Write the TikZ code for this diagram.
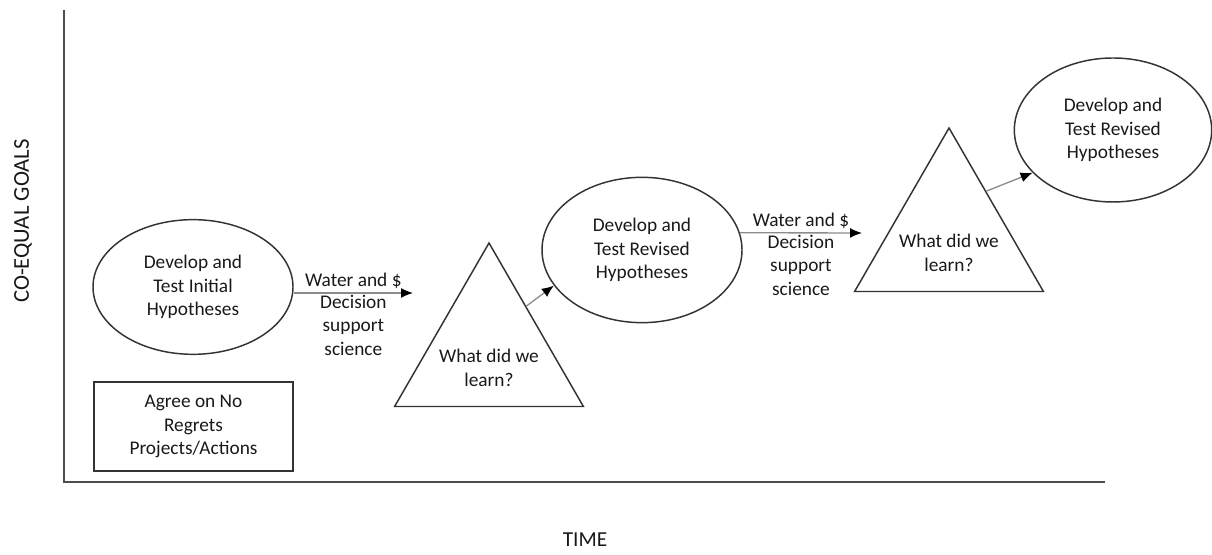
\documentclass[tikz,border=0pt]{standalone}
\usepackage{fontspec}
\setmainfont{Carlito}
\usetikzlibrary{shapes.geometric,arrows.meta,calc}

\begin{document}
\begin{tikzpicture}[x=0.75pt,y=0.75pt,
	font=\fontsize{14.5}{17.6}\selectfont,
	txt/.style={align=center,text=black!90},
	oval/.style={ellipse,draw=black!80,line width=1.1pt,inner sep=0pt,align=center,text=black!90},
	tri/.style={regular polygon,regular polygon sides=3,draw=black!80,line width=1.1pt,inner sep=0pt,minimum size=163.5pt},
	arr/.style={draw=black!45,line width=1pt,-{Latex[length=9pt,width=7.5pt,black]}},
	axis/.style={draw=black!70,line width=1.5pt}]
	\useasboundingbox (0,0) rectangle (1212,555);
	% axes
	\coordinate (top) at (64,545);
	\coordinate (orig) at (64,73);
	\coordinate (right) at (1105,73);
	\draw[axis] (top) -- (orig) -- (right);
	\node[txt,rotate=90,font=\fontsize{17}{20}\selectfont] (ylab) at (23,334) {CO-EQUAL GOALS};
	\node[txt,font=\fontsize{16}{19}\selectfont] (xlab) at (585,15) {TIME};
	% shapes
	\node[oval,minimum width=150pt,minimum height=101pt] (e1) at (193,268) {Develop and\\Test Initial\\Hypotheses};
	\node[draw=black!80,line width=1.1pt,txt,minimum width=149pt,minimum height=67pt,inner sep=0pt] (b1) at (193.5,128.5) {Agree on No\\Regrets\\Projects/Actions};
	\node[tri] (t1) at (489,203) {};
	\node[txt] (t1txt) at ([yshift=-12]t1.center) {What did we\\learn?};
	\node[oval,minimum width=150pt,minimum height=109pt] (e2) at (642,305) {Develop and\\Test Revised\\Hypotheses};
	\node[tri] (t2) at (949,318) {};
	\node[txt] (t2txt) at ([yshift=-12]t2.center) {What did we\\learn?};
	\node[oval,minimum width=148pt,minimum height=108pt] (e3) at (1113,425) {Develop and\\Test Revised\\Hypotheses};
	% arrows
	\coordinate (w1) at (413,262);
	\coordinate (w2) at (862,322);
	\coordinate (s1) at ($(t1.corner 1)!0.39!(t1.corner 3)$);
	\coordinate (s2) at ($(t2.corner 1)!0.39!(t2.corner 3)$);
	\path
	(e1.east |- w1) edge[arr] node[txt,above,inner sep=3pt] {Water and \$} node[txt,below,inner sep=1pt] {Decision\\support\\science} (w1)
	(e2.10) edge[arr] node[txt,above,inner sep=3pt] {Water and \$} node[txt,below,inner sep=1pt] {Decision\\support\\science} (w2)
	(s1) edge[arr] (e2.202)
	(s2) edge[arr] (e3.208);
\end{tikzpicture}
\end{document}
